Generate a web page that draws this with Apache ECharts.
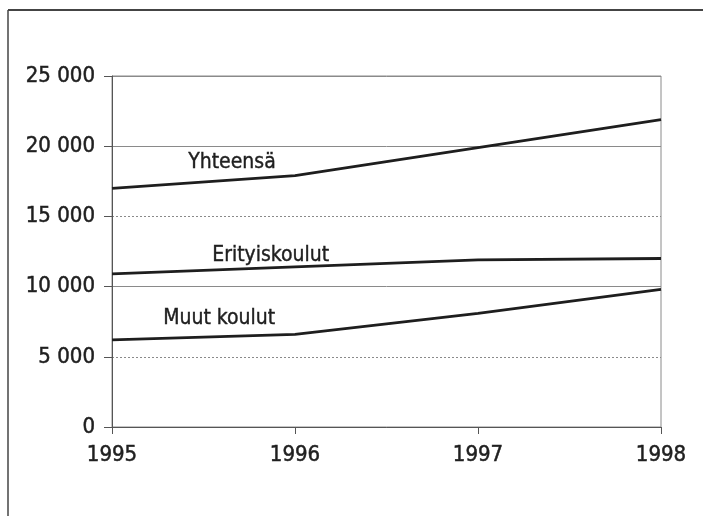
<!DOCTYPE html>
<html>
<head>
<meta charset="utf-8">
<script src="https://cdn.jsdelivr.net/npm/echarts@6/dist/echarts.min.js"></script>
<style>
  html, body { margin: 0; padding: 0; background: #fff; }
  #chart { width: 703px; height: 516px; }
</style>
</head>
<body>
<div id="chart"></div>
<script>
// data
const years = ["1995", "1996", "1997", "1998"];
const yhteensa = [17000, 17900, 19900, 21900];
const erityiskoulut = [10900, 11400, 11900, 12000];
const muutKoulut = [6200, 6600, 8100, 9800];

const FONT = '"Liberation Sans Narrow", "DejaVu Sans Condensed", "Roboto", sans-serif';
const INK = "#1f1f1f";
const GRID = "#8a8a8a";

const chartDom = document.getElementById("chart");
const myChart = echarts.init(chartDom, null, { renderer: "canvas" });

function lineSeries(name, values) {
  return {
    name: name,
    type: "line",
    data: values,
    symbol: "none",
    smooth: false,
    lineStyle: { color: "#1e1e1e", width: 2.8 },
    z: 5,
  };
}

// series name labels sit inside the plot, like the original
function nameLabel(text, left, top) {
  return {
    type: "text",
    left: left,
    top: top,
    style: {
      text: text,
      font: "21px " + FONT,
      fill: INK,
      stroke: INK,
      lineWidth: 0.4,
    },
    z: 10,
  };
}

// a touch of stroke makes the book weight read like the medium print type
const labelStyle = {
  color: INK,
  fontFamily: FONT,
  fontSize: 22,
  textBorderColor: INK,
  textBorderWidth: 0.5,
};

const option = {
  animation: false,
  backgroundColor: "#fff",
  grid: {
    left: 112,
    right: 42,
    top: 76,
    bottom: 89,
    show: true,
    borderColor: GRID,
    borderWidth: 1,
  },
  xAxis: {
    type: "category",
    data: years,
    boundaryGap: false,
    axisLine: { lineStyle: { color: "#555", width: 1 } },
    axisTick: { show: true, length: 7, lineStyle: { color: "#555" } },
    axisLabel: Object.assign({ margin: 17 }, labelStyle),
    splitLine: { show: false },
  },
  yAxis: [
    {
      type: "value",
      min: 0,
      max: 25000,
      interval: 5000,
      axisLine: { show: true, lineStyle: { color: "#555", width: 1 } },
      axisTick: { show: true, length: 8, lineStyle: { color: "#555" } },
      axisLabel: Object.assign(
        {
          margin: 17,
          formatter: (v) => String(v).replace(/\B(?=(\d{3})+(?!\d))/g, " "),
        },
        labelStyle
      ),
      splitLine: { show: true, lineStyle: { color: GRID, width: 1, type: [2, 2] } },
    },
    {
      // solid lines at 10 000 and 20 000
      type: "value",
      position: "left",
      min: 0,
      max: 25000,
      interval: 10000,
      axisLine: { show: false },
      axisTick: { show: false },
      axisLabel: { show: false },
      splitLine: { show: true, lineStyle: { color: GRID, width: 1, type: "solid" } },
    },
  ],
  series: [
    lineSeries("Yhteensä", yhteensa),
    lineSeries("Erityiskoulut", erityiskoulut),
    lineSeries("Muut koulut", muutKoulut),
  ],
  graphic: [
    // outer frame (left and top edges)
    { type: "line", shape: { x1: 8, y1: 10, x2: 8, y2: 516 }, style: { stroke: "#444", lineWidth: 1.5 } },
    { type: "line", shape: { x1: 8, y1: 10, x2: 703, y2: 10 }, style: { stroke: "#444", lineWidth: 2 } },
    nameLabel("Yhteensä", 188, 152),
    nameLabel("Erityiskoulut", 212, 245),
    nameLabel("Muut koulut", 163, 308),
  ],
};

myChart.setOption(option);
</script>
</body>
</html>
